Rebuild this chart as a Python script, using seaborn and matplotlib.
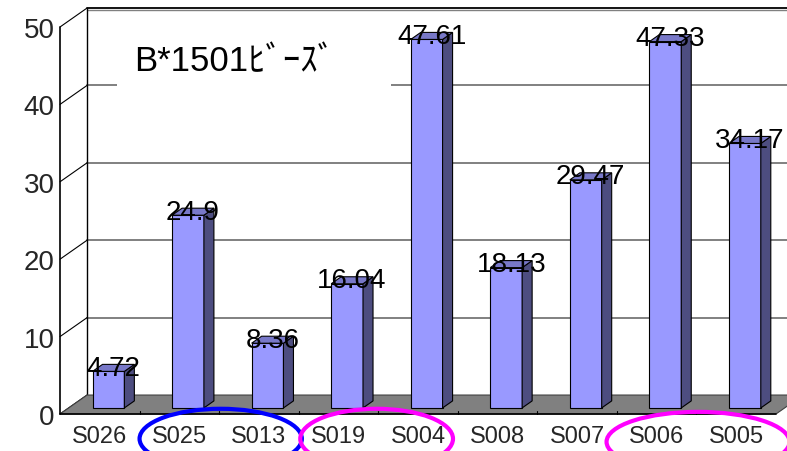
import matplotlib
matplotlib.use("Agg")
import matplotlib.pyplot as plt
from matplotlib.patches import Polygon, Rectangle, Ellipse
import seaborn as sns
import pandas as pd

categories = ["S026", "S025", "S013", "S019", "S004", "S008", "S007", "S006", "S005"]
values = [4.72, 24.9, 8.36, 16.04, 47.61, 18.13, 29.47, 47.33, 34.17]
y_ticks = [0, 10, 20, 30, 40, 50]
title = "B*1501ﾋﾞｰｽﾞ"

sns.set_theme(style="white")
plt.rcParams["font.family"] = ["Liberation Sans", "Noto Sans CJK JP", "DejaVu Sans"]

FRONT = "#9999FF"
SIDE = "#4D4D80"
TOP = "#7878C8"
FLOOR = "#808080"
GRID = "#808080"

fig = plt.figure(figsize=(7.87, 4.52), dpi=100)
ax = fig.add_axes([60 / 787, 37 / 452, 716 / 787, 387 / 452])

df = pd.DataFrame({"sample": categories, "value": values})
sns.barplot(data=df, x="sample", y="value", order=categories, width=0.4,
            color=FRONT, saturation=1, edgecolor="black", linewidth=0.8,
            ax=ax, zorder=3)
bars = list(ax.patches)

n = len(categories)
x0, x1 = -0.5, n - 0.5
ymax = y_ticks[-1]
DX, DY = 0.34, 2.45      # offset from front plane to back wall (data units)
D0, D1 = 0.32, 0.69      # depth range occupied by the bars

# back wall with gridlines
ax.add_patch(Rectangle((x0 + DX, DY), (x1 - x0), ymax, fc="white", ec="none",
                       clip_on=False, zorder=0.5))
for t in y_ticks[1:-1]:
    ax.plot([x0 + DX, x1 + DX], [t + DY] * 2, color=GRID, lw=1.4,
            clip_on=False, zorder=1)
ax.plot([x0 + DX, x1 + DX], [ymax + DY] * 2, color="black", lw=1.3,
        clip_on=False, zorder=1.1)
ax.plot([x0 + DX, x1 + DX], [ymax + DY - 0.3] * 2, color=GRID, lw=1.0,
        clip_on=False, zorder=1)
ax.plot([x0 + DX] * 2, [DY, ymax + DY], color="black", lw=1.0,
        clip_on=False, zorder=1.1)

# side wall gridlines
for t in y_ticks:
    ax.plot([x0, x0 + DX], [t, t + DY], color="black", lw=0.8,
            clip_on=False, zorder=1.1)

# floor
ax.add_patch(Polygon([(x0, 0), (x1, 0), (x1 + DX, DY), (x0 + DX, DY)],
                     closed=True, fc=FLOOR, ec="#404040", lw=0.8,
                     clip_on=False, zorder=1.5))
ax.plot([x0, x1], [0, 0], color="black", lw=1.2, clip_on=False, zorder=1.6)
ax.plot([x0, x0], [0, ymax], color="black", lw=1.2, clip_on=False, zorder=1.6)
for i in range(1, n):
    ax.plot([i - 0.5] * 2, [0, 0.45], color="black", lw=0.8,
            clip_on=False, zorder=1.6)

# 3D bars: shift the front faces back, then add side and top faces
ddx, ddy = (D1 - D0) * DX, (D1 - D0) * DY
for p, v in zip(bars, values):
    bx, w, h = p.get_x(), p.get_width(), p.get_height()
    xl = bx + D0 * DX
    yb = D0 * DY
    p.set_x(xl)
    p.set_y(yb)
    p.set_clip_on(False)
    xr = xl + w
    ax.add_patch(Polygon([(xr, yb), (xr + ddx, yb + ddy), (xr + ddx, yb + ddy + h),
                          (xr, yb + h)], closed=True, fc=SIDE, ec="black",
                         lw=0.8, clip_on=False, zorder=3))
    ax.add_patch(Polygon([(xl, yb + h), (xr, yb + h), (xr + ddx, yb + h + ddy),
                          (xl + ddx, yb + h + ddy)], closed=True, fc=TOP,
                         ec="black", lw=0.8, clip_on=False, zorder=3))
    ax.text(bx + w / 2 + (D0 + D1) / 2 * DX, h + (D0 + D1) / 2 * DY, f"{v:g}",
            ha="center", va="center", fontsize=20, color="black", zorder=6)

# title on a white panel
ax.add_patch(Rectangle((0.216, 40.7), 3.45, 9.0, fc="white", ec="none",
                       clip_on=False, zorder=2))
ax.text(1.70, 45.6, title, ha="center", va="center", fontsize=25,
        color="black", zorder=5)

# highlight groups
ax.add_patch(Ellipse((1.52, -3.2), 2.04, 7.75, fill=False, ec="#0000FF", lw=3,
                     clip_on=False, zorder=7))
ax.add_patch(Ellipse((3.48, -3.2), 1.92, 7.75, fill=False, ec="#FF00FF", lw=3,
                     clip_on=False, zorder=7))
ax.add_patch(Ellipse((7.52, -3.6), 2.3, 7.75, fill=False, ec="#FF00FF", lw=3,
                     clip_on=False, zorder=7))

ax.set_xlim(x0, x1)
ax.set_ylim(0, ymax)
ax.set_yticks(y_ticks)
ax.set_yticklabels([str(t) for t in y_ticks], fontsize=20)
ax.set_xticks(range(n))
ax.set_xticklabels(categories, fontsize=17)
ax.tick_params(axis="y", length=0, pad=4)
ax.tick_params(axis="x", length=0, pad=8)
ax.set_xlabel("")
ax.set_ylabel("")
for s in ax.spines.values():
    s.set_visible(False)
ax.patch.set_facecolor("white")

fig.savefig("out.png", dpi=100)
